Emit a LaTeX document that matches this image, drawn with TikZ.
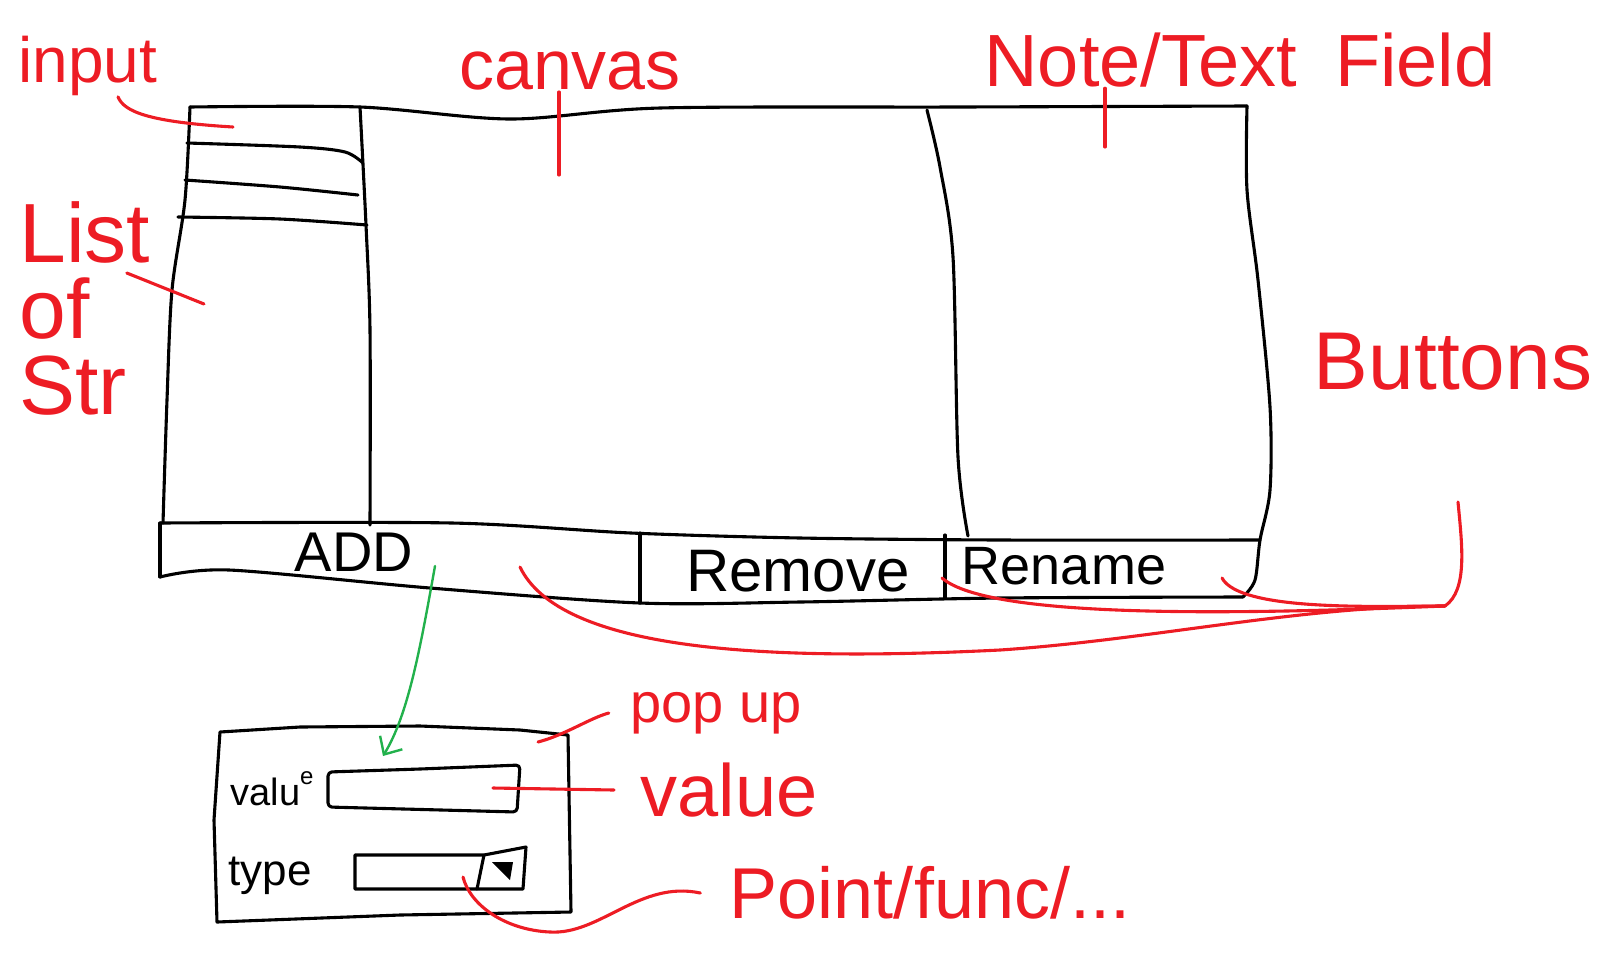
\documentclass[tikz,border=0pt]{standalone}
\usepackage{fontspec}
\setmainfont{Liberation Sans}
\usetikzlibrary{arrows.meta}
\definecolor{sketchred}{RGB}{237,28,36}
\definecolor{sketchgreen}{RGB}{34,177,76}
\newcommand{\handsize}[1]{\fontsize{#1}{#1}\selectfont}

\begin{document}
\begin{tikzpicture}[x=1pt,y=-1pt,line width=3.1pt,line join=round,line cap=round,
    redpen/.style={draw=sketchred},
    note/.style={text=sketchred,inner sep=0pt},
    lbl/.style={inner sep=0pt},
    btntext/.style={inner sep=0pt,font=\handsize{56}}]
            \useasboundingbox (0,0) rectangle (1616,970);
            % main window
            \draw plot[smooth] coordinates {(190,107) (360,107) (510,119) (660,108) (960,107) (1247,106)};
            \draw plot[smooth] coordinates {(190,107) (185,200) (172,290) (167,400) (163,523)};
            \draw plot[smooth] coordinates {(1247,106) (1247,190) (1258,280) (1270,407) (1270,490) (1260,540) (1255,580) (1243,597)};
            \draw plot[smooth] coordinates {(360,107) (366,225) (370,330) (370,525)};
            \draw plot[smooth] coordinates {(927,110) (940,167) (953,257) (958,457) (968,536)};
            % list rows
            \draw plot[smooth] coordinates {(187,143) (300,147) (345,152) (363,163)};
            \draw plot[smooth] coordinates {(185,180) (280,187) (358,195)};
            \draw plot[smooth] coordinates {(178,217) (280,219) (367,225)};
            % button bar
            \draw plot[smooth] coordinates {(160,523) (452,523) (631,533) (800,538) (1000,540) (1260,540)};
            \draw plot[smooth] coordinates {(160,577) (229,570) (430,588) (640,603) (800,602) (1000,598) (1243,597)};
            \draw (160,523) -- (160,577);
            \draw (640,533) -- (640,603);
            \draw (945,535) -- (945,598);
            \node[btntext] at (354,552)(add){ADD};
            \node[btntext,font=\handsize{60}] at (798,571)(remove){Remove};
            \node[btntext,font=\handsize{54}] at (1064,566)(rename){Rename};
            % pop up
            \draw (220,732) -- (300,727) -- (420,726) -- (520,730) -- (568,735) -- (571,912) -- (400,915) -- (217,922) -- (214,820) -- cycle;
            \draw[rounded corners=4pt] (328,772) -- (420,769) -- (520,765) -- (517,812) -- (328,807) -- cycle;
            \draw (355,855) -- (484,855) -- (526,847) -- (523,889) -- (355,889) -- cycle;
            \draw (484,855) -- (477,889);
            \fill (492,862) -- (513,862) -- (510,880) -- cycle;
            \node[lbl,font=\handsize{38},anchor=base] at (272,805)(valtxt){valu\raisebox{.55em}{\handsize{24}e}};
            \node[lbl,font=\handsize{44},anchor=base] at (270,885)(typetxt){type};
            %\draw[sketchgreen] (add) -- (popin);
            \coordinate (addsrc) at (435,566);
            \coordinate (popin) at (383,756);
            \path[draw=sketchgreen,line width=2.4pt,>={Straight Barb[length=14pt,width=26pt]},->] (addsrc) .. controls (420,650) and (408,715) .. (popin);
            % red notes
            \node[note,font=\handsize{64},anchor=base] at (88,82)(inputlbl){input};
            \node[note,font=\fontsize{84}{76}\selectfont,align=left,anchor=north west] at (18,200)(listlbl){List\\of\\Str};
            \node[note,font=\handsize{70},anchor=south] at (570,92)(canvaslbl){canvas};
            \node[note,font=\handsize{74},anchor=base] at (1240,86)(notelbl){Note/Text\hspace{38pt}Field};
            \node[note,font=\handsize{82}] at (1453,362)(btnlbl){Buttons};
            \node[note,font=\handsize{56}] at (716,713)(popuplbl){pop up};
            \node[note,font=\handsize{74}] at (729,790)(valuelbl){value};
            \node[note,font=\handsize{72}] at (930,893)(pointlbl){Point/func/...};
            \coordinate (inputptr) at (233,127);
            \coordinate (listptr) at (204,304);
            \coordinate (canvasptr) at (559,175);
            \coordinate (noteptr) at (1105,147);
            \coordinate (btnstem) at (1458,502);
            \coordinate (btnhub) at (1445,606);
            \coordinate (btnadd) at (520,567);
            \coordinate (btnmid) at (942,578);
            \coordinate (btnend) at (1222,578);
            \coordinate (poptip) at (538,742);
            \coordinate (valtip) at (493,788);
            \coordinate (typetip) at (463,877);
            \draw[redpen] ([xshift=30pt]inputlbl.south) .. controls (124,112) and (150,122) .. (inputptr);
            \draw[redpen] ([shift={(-25pt,-73pt)}]listlbl.north east) -- (listptr);
            \draw[redpen] (canvaslbl.south -| canvasptr) -- (canvasptr);
            \draw[redpen] (notelbl.south -| noteptr) -- (noteptr);
            \draw[redpen] (btnstem) .. controls (1462,545) and (1468,590) .. (btnhub);
            \draw[redpen] (btnhub) .. controls (1300,606) and (1150,640) .. (1000,650) .. controls (760,662) and (560,650) .. (btnadd);
            \draw[redpen] (btnhub) .. controls (1250,614) and (990,620) .. (btnmid);
            \draw[redpen] (btnhub) .. controls (1380,606) and (1240,612) .. (btnend);
            \draw[redpen] ([xshift=-20pt]popuplbl.west) .. controls (590,718) and (565,735) .. (poptip);
            \draw[redpen] ([xshift=-25pt]valuelbl.west) -- (valtip);
            \draw[redpen] ([xshift=-28pt]pointlbl.west) .. controls (640,880) and (600,935) .. (550,932) .. controls (505,930) and (470,905) .. (typetip);
        \end{tikzpicture}
\end{document}
